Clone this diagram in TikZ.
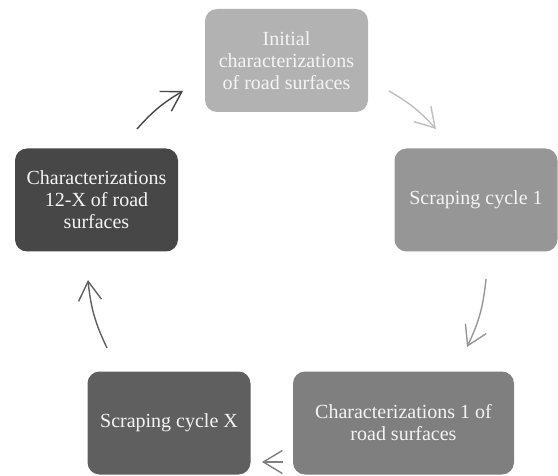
\documentclass[tikz,border=0pt]{standalone}
\usepackage{fontspec}
\setmainfont{Liberation Serif}
\usepackage{tikz}
\usetikzlibrary{
    arrows.meta,      % open arrow tips
    positioning
}
\definecolor{boxA}{HTML}{B2B2B2}
\definecolor{boxB}{HTML}{969696}
\definecolor{boxC}{HTML}{7F7F7F}
\definecolor{boxD}{HTML}{5F5F5F}
\definecolor{boxE}{HTML}{474747}
\definecolor{txtW}{HTML}{F4F4F4}

\begin{document}
\begin{tikzpicture}[
    x=1pt, y=1pt,
    stage/.style={rounded corners=12pt, minimum width=163pt, minimum height=103pt, align=center, text=txtW, inner sep=2pt, font=\fontsize{20}{22}\selectfont},
    cyc/.style={-{Straight Barb[length=19pt, width=23pt, line width=1.4pt]}, line width=1.4pt},
  ]
    \useasboundingbox (0,0) rectangle (558,475);

    % Stages
    \node[stage, fill=boxA] (init) at (286.5,414.5) {Initial\\characterizations\\of road surfaces};
    \node[stage, fill=boxB] (scr1) at (476,275) {Scraping cycle 1};
    \node[stage, fill=boxC, minimum width=221pt] (char1) at (403.5,52) {Characterizations 1 of\\road surfaces};
    \node[stage, fill=boxD] (scrx) at (169,52) {Scraping cycle X};
    \node[stage, fill=boxE] (charx) at (96.5,275) {Characterizations\\12-X of road\\surfaces};

    % Arrow ends
    \coordinate (a1s) at (389,384);
    \coordinate (a1e) at (436,346);
    \coordinate (a2s) at (486,196);
    \coordinate (a2e) at (467,128);
    \coordinate (a3s) at (283,13);
    \coordinate (a3e) at (262,13);
    \coordinate (a4s) at (107,127);
    \coordinate (a4e) at (88,195);
    \coordinate (a5s) at (137,346);
    \coordinate (a5e) at (183,384);

    % Arrows
    \draw[cyc, draw=boxA!85!white] (a1s) to[bend left=9] (a1e);
    \draw[cyc, draw=boxB] (a2s) to[bend left=10] (a2e);
    \draw[cyc, draw=boxC] (a3s) -- (a3e);
    \draw[cyc, draw=boxD] (a4s) to[bend left=10] (a4e);
    \draw[cyc, draw=boxE] (a5s) to[bend left=9] (a5e);
  \end{tikzpicture}
\end{document}
